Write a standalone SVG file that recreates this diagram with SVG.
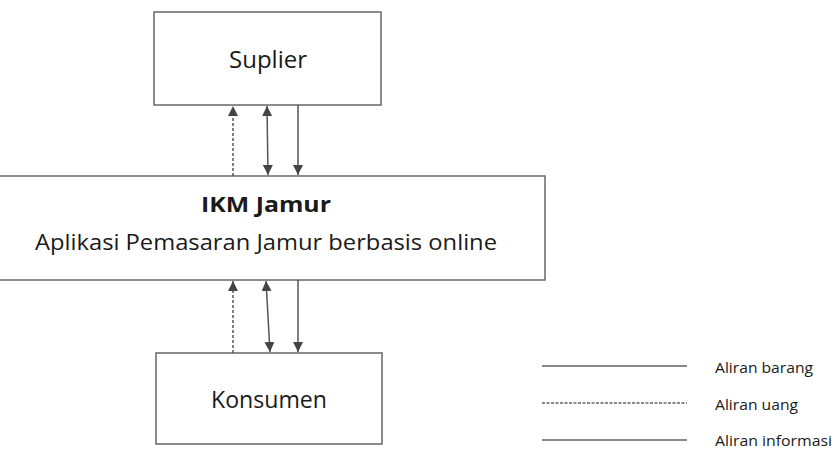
<svg xmlns="http://www.w3.org/2000/svg" width="837" height="456" viewBox="0 0 837 456">
<defs>
<marker id="ah" viewBox="0 0 10 10" refX="10" refY="5" markerWidth="10" markerHeight="10" markerUnits="userSpaceOnUse" orient="auto-start-reverse">
<path d="M0,0 L10,5 L0,10 z" fill="#444"/>
</marker>
<style>
.box{fill:#fff;stroke:#666;stroke-width:1.5}
.t{font-family:"Open Sans","Noto Sans",sans-serif;fill:#1a1a1a;text-anchor:middle}
.ln{stroke:#555;stroke-width:1.5;fill:none}
.dash{stroke-dasharray:3,2}
.lg{stroke:#888;stroke-width:2;fill:none}
.lt{font-family:"Open Sans","Noto Sans",sans-serif;fill:#1a1a1a;font-size:14.5px}
</style>
</defs>
<rect width="837" height="456" fill="#fff"/>
<g id="suplier">
<rect class="box" x="154" y="12" width="227" height="93"/>
<text class="t" x="268" y="68" font-size="24" textLength="78" lengthAdjust="spacingAndGlyphs">Suplier</text>
</g>
<g id="ikm">
<rect class="box" x="-1" y="176" width="546" height="104"/>
<text class="t" x="266" y="212" font-size="21" font-weight="bold" textLength="130" lengthAdjust="spacingAndGlyphs">IKM Jamur</text>
<text class="t" x="266" y="250" font-size="22" textLength="462" lengthAdjust="spacingAndGlyphs">Aplikasi Pemasaran Jamur berbasis online</text>
</g>
<g id="konsumen">
<rect class="box" x="156" y="353" width="226" height="91"/>
<text class="t" x="269" y="408" font-size="24" textLength="116" lengthAdjust="spacingAndGlyphs">Konsumen</text>
</g>
<g id="connectors">
<line class="ln dash" x1="233" y1="176" x2="233" y2="106" marker-end="url(#ah)"/>
<line class="ln" x1="267" y1="106" x2="268" y2="175" marker-start="url(#ah)" marker-end="url(#ah)"/>
<line class="ln" x1="298" y1="105" x2="298" y2="175" marker-end="url(#ah)"/>
<line class="ln dash" x1="233" y1="353" x2="233" y2="281" marker-end="url(#ah)"/>
<line class="ln" x1="266" y1="281" x2="270" y2="352" marker-start="url(#ah)" marker-end="url(#ah)"/>
<line class="ln" x1="298" y1="280" x2="298" y2="352" marker-end="url(#ah)"/>
</g>
<g id="legend">
<line class="lg" x1="542" y1="366" x2="687" y2="366"/>
<line class="lg" x1="542" y1="403" x2="687" y2="403" stroke-dasharray="3,1.5"/>
<line class="lg" x1="542" y1="440" x2="687" y2="440"/>
<text class="lt" x="715" y="373" textLength="98" lengthAdjust="spacingAndGlyphs">Aliran barang</text>
<text class="lt" x="715" y="410" textLength="83" lengthAdjust="spacingAndGlyphs">Aliran uang</text>
<text class="lt" x="715" y="446" textLength="117" lengthAdjust="spacingAndGlyphs">Aliran informasi</text>
</g>
</svg>
